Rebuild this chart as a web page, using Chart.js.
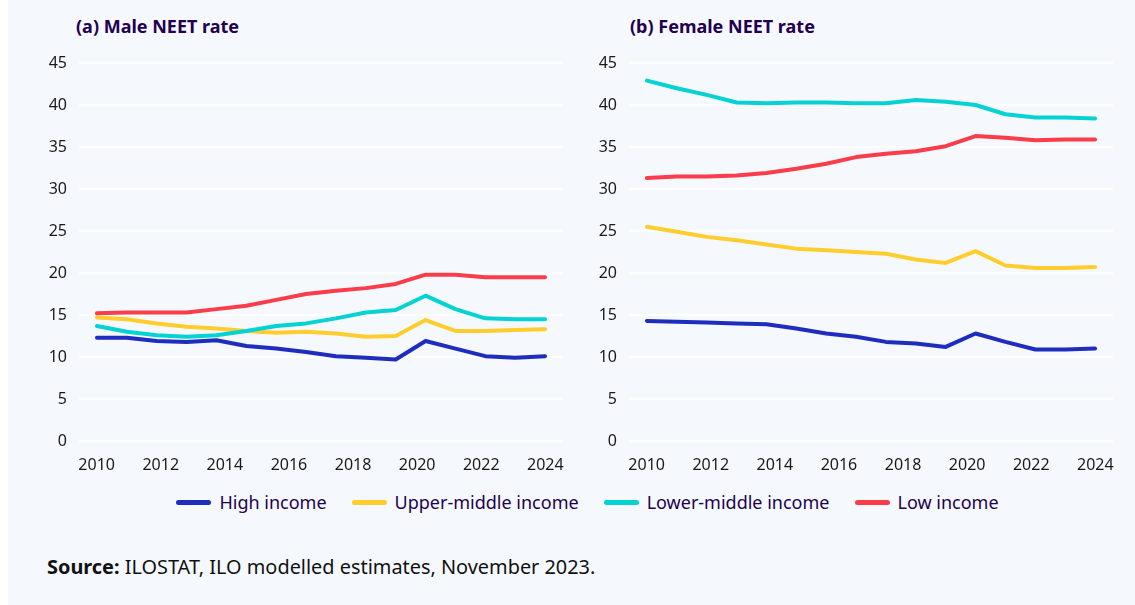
<!DOCTYPE html>
<html>
<head>
<meta charset="utf-8">
<script src="https://cdn.jsdelivr.net/npm/chart.js@4/dist/chart.umd.min.js"></script>
<style>
  html, body { margin: 0; padding: 0; }
  body {
    width: 1135px; height: 605px; position: relative; overflow: hidden;
    background: #f5f9fd; font-family: "Noto Sans", sans-serif;
    border-left: 8px solid #ffffff; box-sizing: border-box;
  }
  .title { position: absolute; top: 14px; font-size: 18px; font-weight: 700; color: #230050; }
  .box { position: absolute; top: 40px; width: 580px; height: 450px; }
  .legend {
    position: absolute; top: 490px; left: -8px; width: 1135px; height: 24px;
    display: flex; justify-content: center; align-items: center; gap: 25px;
    font-size: 18px; color: #230050; padding-left: 40px; box-sizing: border-box;
  }
  .legend span.item { display: flex; align-items: center; }
  .legend i { display: inline-block; width: 35px; height: 5px; border-radius: 3px; margin-right: 8px; }
  .source { position: absolute; left: 39px; top: 553px; font-size: 19.9px; color: #111; }
</style>
</head>
<body>
<div class="title" style="left:68px">(a) Male NEET rate</div>
<div class="title" style="left:622px">(b) Female NEET rate</div>
<div class="box" style="left:-8px"><canvas id="male"></canvas></div>
<div class="box" style="left:542px"><canvas id="female"></canvas></div>
<div class="legend" id="legend"></div>
<div class="source"><b>Source:</b> ILOSTAT, ILO modelled estimates, November 2023.</div>
<script>
// data points (16 per series), x axis labelled 2010..2024
const periods = ['2009','2010','2011','2012','2013','2014','2015','2016','2017','2018','2019','2020','2021','2022','2023','2024'];
const xTickYears = [2010, 2012, 2014, 2016, 2018, 2020, 2022, 2024];
const yTicks = [0, 5, 10, 15, 20, 25, 30, 35, 40, 45];

const seriesNames = ['High income', 'Upper-middle income', 'Lower-middle income', 'Low income'];
const seriesColors = ['#1e2dbe', '#ffcd2d', '#05d2d2', '#fa3c4b'];

const maleHigh  = [12.3, 12.3, 11.9, 11.8, 12.0, 11.3, 11.0, 10.6, 10.1, 9.9, 9.7, 11.9, 11.0, 10.1, 9.9, 10.1];
const maleUpper = [14.7, 14.5, 14.0, 13.6, 13.4, 13.1, 12.9, 13.0, 12.8, 12.4, 12.5, 14.4, 13.1, 13.1, 13.2, 13.3];
const maleLower = [13.7, 13.0, 12.6, 12.4, 12.6, 13.1, 13.7, 14.0, 14.6, 15.3, 15.6, 17.3, 15.7, 14.6, 14.5, 14.5];
const maleLow   = [15.2, 15.3, 15.3, 15.3, 15.7, 16.1, 16.8, 17.5, 17.9, 18.2, 18.7, 19.8, 19.8, 19.5, 19.5, 19.5];

const femaleHigh  = [14.3, 14.2, 14.1, 14.0, 13.9, 13.4, 12.8, 12.4, 11.8, 11.6, 11.2, 12.8, 11.8, 10.9, 10.9, 11.0];
const femaleUpper = [25.5, 24.9, 24.3, 23.9, 23.4, 22.9, 22.7, 22.5, 22.3, 21.6, 21.2, 22.6, 20.9, 20.6, 20.6, 20.7];
const femaleLower = [42.9, 42.0, 41.2, 40.3, 40.2, 40.3, 40.3, 40.2, 40.2, 40.6, 40.4, 40.0, 38.9, 38.5, 38.5, 38.4];
const femaleLow   = [31.3, 31.5, 31.5, 31.6, 31.9, 32.4, 33.0, 33.8, 34.2, 34.5, 35.1, 36.3, 36.1, 35.8, 35.9, 35.9];

const tickFont = { family: 'Noto Sans', size: 16 };

function makeChart(id, series) {
  const datasets = series.map((vals, i) => ({
    label: seriesNames[i],
    data: vals.map((v, k) => ({ x: k, y: v })),
    borderColor: seriesColors[i],
    backgroundColor: seriesColors[i],
    borderWidth: 4,
    borderCapStyle: 'round',
    borderJoinStyle: 'round',
    pointRadius: 0,
    tension: 0,
    xAxisID: 'x',
    order: 4 - i
  }));
  return new Chart(document.getElementById(id), {
    type: 'line',
    data: { labels: periods, datasets: datasets },
    options: {
      responsive: true,
      maintainAspectRatio: false,
      animation: false,
      layout: { padding: { top: 23, right: 17, left: 0, bottom: 0 } },
      plugins: { legend: { display: false }, tooltip: { enabled: false } },
      scales: {
        x: { type: 'linear', display: false, min: -0.6, max: periods.length - 0.4 },
        xt: {
          type: 'linear', position: 'bottom',
          min: xTickYears[0] - 0.55, max: xTickYears[xTickYears.length - 1] + 0.55,
          afterBuildTicks: s => { s.ticks = xTickYears.map(v => ({ value: v })); },
          afterFit: s => { s.height = 49; },
          grid: { display: false, drawTicks: false },
          border: { display: false },
          ticks: { color: '#1a1a1a', font: tickFont, padding: 15, maxRotation: 0, autoSkip: false,
                   callback: v => String(v) }
        },
        y: {
          min: 0, max: 45,
          afterBuildTicks: s => { s.ticks = yTicks.map(v => ({ value: v })); },
          afterFit: s => { s.width = 79; },
          grid: { color: '#ffffff', lineWidth: 2, drawTicks: false },
          border: { display: false },
          ticks: { color: '#1a1a1a', font: tickFont, padding: 12 }
        }
      }
    }
  });
}

makeChart('male', [maleHigh, maleUpper, maleLower, maleLow]);
makeChart('female', [femaleHigh, femaleUpper, femaleLower, femaleLow]);

const legend = document.getElementById('legend');
seriesNames.forEach((name, i) => {
  const item = document.createElement('span');
  item.className = 'item';
  item.innerHTML = '<i style="background:' + seriesColors[i] + '"></i>' + name;
  legend.appendChild(item);
});
</script>
</body>
</html>
